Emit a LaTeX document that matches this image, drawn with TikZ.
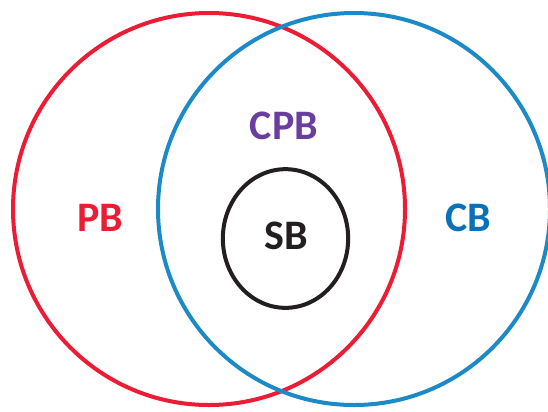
\documentclass[tikz,border=0pt]{standalone}
\usepackage{fontspec}
\setmainfont{Carlito}
\usepackage{tikz}
\usetikzlibrary{shapes.geometric}

\definecolor{pbred}{RGB}{236,28,52}
\definecolor{cbblue}{RGB}{28,138,199}
\definecolor{cbtext}{RGB}{10,113,185}
\definecolor{cpbpurple}{RGB}{106,62,158}
\definecolor{sbblack}{RGB}{35,31,32}

\tikzset{
  setring/.style={circle, draw, line width=3pt, inner sep=0pt, minimum size=294pt},
  setlabel/.style={inner sep=0.75pt, font=\fontsize{31.5}{34}\selectfont\bfseries}
}

\begin{document}
\begin{tikzpicture}[x=0.75pt,y=0.75pt,yscale=-1,xscale=1]
\useasboundingbox (0,0) rectangle (548,411);
\clip (0,0) rectangle (548,411);

%Shape: Circle
\node (pbset) [setring, color=pbred] at (209,209) {};
%Shape: Circle
\node (cbset) [setring, color=cbblue] at (354,209) {};
%Shape: Ellipse
\node (sbset) [ellipse, draw=sbblack, line width=3pt, inner sep=0pt, minimum width=94pt, minimum height=104pt] at (285.5,238.5) {};

% Text Node
\node (pb) [setlabel, text=pbred] at (100.5,218) {PB};
% Text Node
\node (cpb) [setlabel, text=cpbpurple] at (284,125.5) {CPB};
% Text Node
\node (cb) [setlabel, text=cbtext] at (468,218) {CB};
% Text Node
\node (sb) [setlabel, text=sbblack] at (286.5,236) {SB};

\end{tikzpicture}
\end{document}
